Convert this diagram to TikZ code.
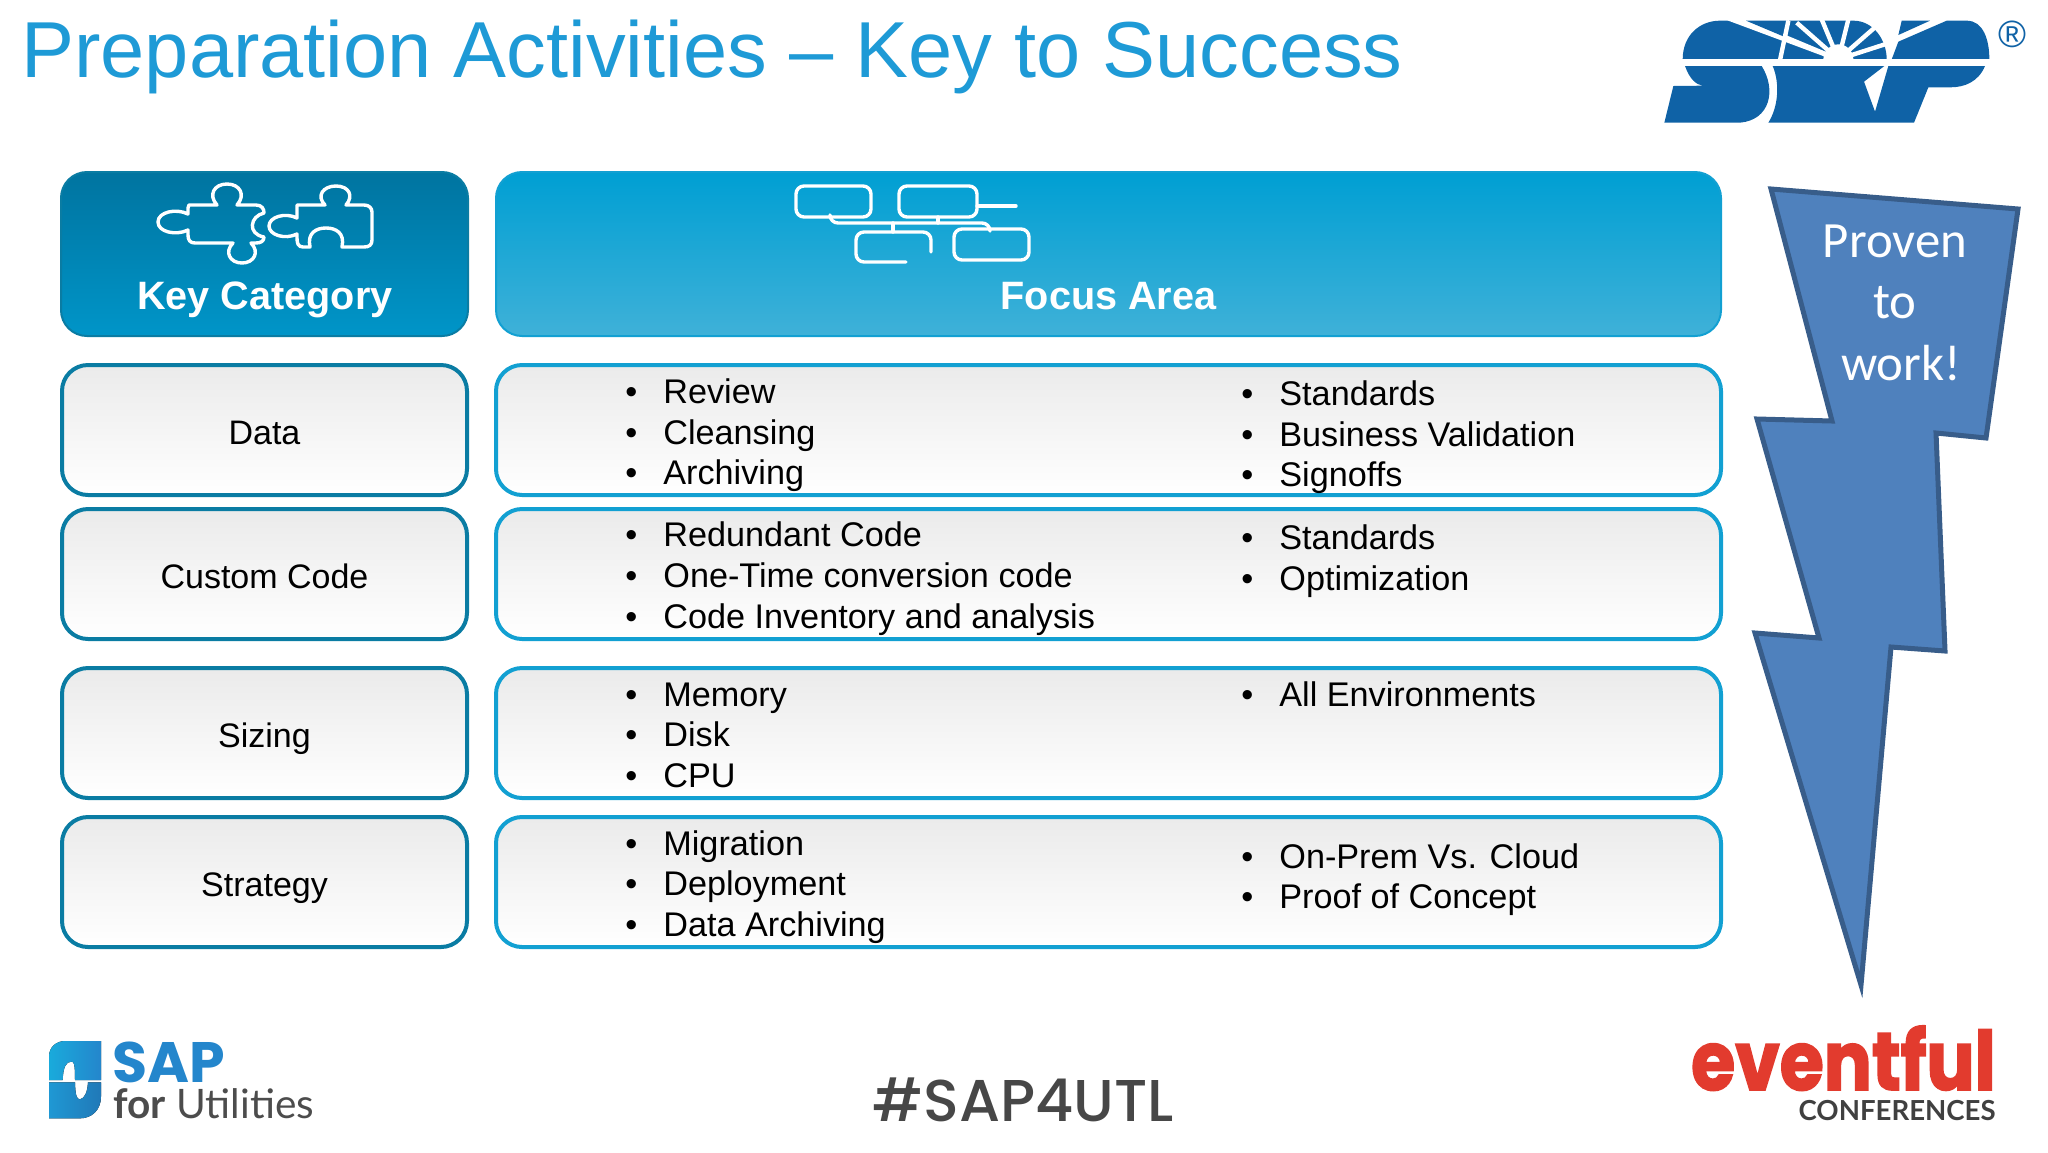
\documentclass[tikz,border=0pt]{standalone}
\usepackage{fontspec}
\setmainfont{Liberation Sans}
\newfontfamily\boltfont{Carlito}
\newfontfamily\logofont{Lato}
\newfontfamily\sapfont{Poppins}
\newfontfamily\tagfont{Poppins Medium}
\newfontfamily\eventfont[FakeStretch=0.87,FakeBold=2]{Poppins}
\definecolor{titleblue}{HTML}{1E9AD6}
\definecolor{keyedge}{HTML}{0A7CA3}
\definecolor{focusedge}{HTML}{12A0D2}
\definecolor{keytop}{HTML}{0074A0}
\definecolor{keybottom}{HTML}{0095C8}
\definecolor{focustop}{HTML}{009FD3}
\definecolor{focusbottom}{HTML}{3FB1D8}
\definecolor{srpblue}{HTML}{0F62A6}
\definecolor{boltfill}{HTML}{4F81BD}
\definecolor{boltedge}{HTML}{385D8A}
\definecolor{sapblue}{HTML}{2486CC}
\definecolor{eventred}{HTML}{E23B2E}
\tikzset{
    keyhead/.style={rounded corners=13pt, draw=keyedge, line width=1pt, top color=keytop, bottom color=keybottom, minimum width=203.5pt, minimum height=82pt},
    focushead/.style={rounded corners=13pt, draw=focusedge, line width=1pt, top color=focustop, bottom color=focusbottom, minimum width=612.5pt, minimum height=82pt},
    keybox/.style={rounded corners=13pt, draw=keyedge, line width=2pt, top color=black!8, bottom color=white, minimum width=202.5pt, minimum height=65pt, text height=17.5pt, text depth=3pt, font=\fontsize{17}{20}\selectfont},
    focusbox/.style={rounded corners=13pt, draw=focusedge, line width=2pt, top color=black!8, bottom color=white, minimum width=612.5pt, minimum height=65pt},
    headtext/.style={anchor=base, inner sep=0pt, text=white, font=\bfseries\fontsize{19.8}{23}\selectfont},
    itemtext/.style={anchor=base west, inner sep=0pt, yshift=-5.8pt, font=\fontsize{17.1}{20}\selectfont},
    icon/.style={draw=white, line width=1.7pt, line cap=round, line join=round},
    bolttext/.style={text=white, font=\boltfont\fontsize{25.4}{29}\selectfont},
}
\begin{document}
\begin{tikzpicture}[x=0.5pt,y=-0.5pt]
    \useasboundingbox (0,0) rectangle (2048,1152);

    % Title
    \node[anchor=base west, inner sep=0pt, text=titleblue, font=\fontsize{39.7}{46}\selectfont] (title) at (21,77) {Preparation Activities – Key to Success};

    % Header boxes
    \node[keyhead] (keyhead) at (264.5,254) {};
    \node[focushead] (focushead) at (1108.5,254) {};
    \node[headtext] (keylabel) at (265,309) {Key Category};
    \node[headtext] (focuslabel) at (1108.5,309) {Focus Area};

    % Puzzle pieces
    \draw[icon] (189,205) -- (217,205) .. controls (208,195) and (214,184) .. (227,184) .. controls (240,184) and (246,195) .. (237,205) -- (256,205) .. controls (262,205) and (264,209) .. (264,213) .. controls (250,216) and (247,234) .. (264,237) .. controls (264,241) and (261,243) .. (256,243) -- (251,243) .. controls (260,252) and (254,263) .. (242,263) .. controls (230,263) and (224,252) .. (233,243) -- (195,243) .. controls (190,243) and (188,240) .. (188,235) -- (188,230) .. controls (176,236) and (158,232) .. (158,222) .. controls (158,212) and (176,208) .. (188,214) -- (188,208) -- cycle;
    \draw[icon] (297,205) -- (325,205) .. controls (316,196) and (323,186) .. (336,186) .. controls (349,186) and (354,196) .. (346,205) -- (364,205) .. controls (369,205) and (372,208) .. (372,212) -- (372,240) .. controls (372,245) and (369,247) .. (364,247) -- (342,247) .. controls (345,233) and (336,228) .. (326,228) .. controls (316,228) and (307,233) .. (310,247) -- (303,247) .. controls (298,247) and (297,243) .. (297,238) -- (297,234) .. controls (285,240) and (269,235) .. (269,226) .. controls (269,217) and (285,212) .. (297,218) -- cycle;

    % Hierarchy boxes
    \draw[icon, rounded corners=4pt] (796,186) rectangle (871,217);
    \draw[icon, rounded corners=4pt] (899,186) rectangle (977,217);
    \draw[icon, rounded corners=4pt] (954,229) rectangle (1029,260);
    \draw[icon, rounded corners=4pt] (906,262) -- (856,262) -- (856,232) -- (931,232) -- (931,252);
    \draw[icon] (977,206) -- (1016,206);
    \draw[icon, rounded corners=4pt] (830,217) -- (830,223) -- (990,223) -- (990,229);
    \draw[icon] (893,223) -- (893,232);
    \draw[icon] (938,217) -- (938,223);

    % Key category boxes
    \node[keybox] (data) at (264.5,430) {Data};
    \node[keybox] (code) at (264.5,574) {Custom Code};
    \node[keybox] (sizing) at (264.5,733) {Sizing};
    \node[keybox] (strategy) at (264.5,882) {Strategy};

    % Focus area boxes
    \node[focusbox] (datafocus) at (1108.5,430) {};
    \node[focusbox] (codefocus) at (1108.5,574) {};
    \node[focusbox] (sizingfocus) at (1108.5,733) {};
    \node[focusbox] (strategyfocus) at (1108.5,882) {};

    % Left column of the lists
    \foreach \y/\txt in {392/Review, 433/Cleansing, 473/Archiving,
        535/Redundant Code, 576/One-Time conversion code, 617/Code Inventory and analysis,
        695/Memory, 735/Disk, 776/CPU,
        844/Migration, 884/Deployment, 925/Data Archiving} {
        \node[itemtext] at (625,\y) {•};
        \node[itemtext] at (663,\y) {\txt};
    }

    % Right column of the lists
    \foreach \y/\txt in {394/Standards, 435/Business Validation, 475/Signoffs,
        538/Standards, 579/Optimization,
        695/All Environments,
        857/On-Prem Vs. Cloud, 897/Proof of Concept} {
        \node[itemtext] at (1241,\y) {•};
        \node[itemtext] at (1279,\y) {\txt};
    }

    % Lightning bolt
    \draw[fill=boltfill, draw=boltedge, line width=2.5pt, line join=miter]
        (1771,189) -- (2018,209) -- (1986,438) -- (1936,433) -- (1945,651) -- (1891,647)
        -- (1861,985) -- (1755,633) -- (1819,638) -- (1757,419) -- (1832,421) -- cycle;
    \node[bolttext] (proven) at (1895,241) {Proven};
    \node[bolttext] (to) at (1895,303) {to};
    \node[bolttext] (work) at (1901,363) {work!};

    % SRP logo
    \begin{scope}[shift={(1640,0)},x=0.16667pt,y=-0.16667pt]
        \fill[srpblue] (128,178) .. controls (128,105) and (180,62) .. (240,62) -- (640,62) .. controls (700,62) and (740,120) .. (740,178) -- cycle;
        \fill[srpblue] (785,62) -- (870,62) -- (775,105) -- cycle;
        \fill[srpblue] (775,125) -- (920,62) -- (980,62) .. controls (1030,62) and (1048,120) .. (1048,178) -- (755,178) -- cycle;
        \foreach \a/\b in {265/55, 300/55, 470/68, 545/58, 625/58, 705/82, 750/128} {
            \draw[white, line width=2.2pt] (\a,\b) -- (595,178);
        }
        \fill[white] (285,40) -- (450,40) -- (440,120) -- cycle;
        \fill[srpblue] (318,62) -- (442,62) -- (432,110) -- cycle;
        \draw[white, line width=2.2pt] (445,62) -- (420,180);
        \fill[white] (595,178) circle (45);
        \fill[white] (100,178) rectangle (1060,198);
        \fill[srpblue] (135,198) .. controls (150,240) and (170,255) .. (190,257) -- (100,258) -- (73,368) -- (300,368) .. controls (390,360) and (410,270) .. (365,198) -- cycle;
        \fill[srpblue] (398,198) -- (733,198) -- (672,245) -- (705,335) -- (745,198) -- (1035,198) .. controls (1015,245) and (975,262) .. (930,262) -- (865,262) -- (822,368) -- (385,368) .. controls (415,320) and (420,250) .. (398,198) -- cycle;
    \end{scope}
    \node[text=srpblue, inner sep=0pt, font=\fontsize{19}{22}\selectfont] (reg) at (2012,34) {®};

    % SAP logo
    \begin{scope}[shift={(30,1020)},x=0.16667pt,y=-0.16667pt]
        \fill[left color=sapblue!70!cyan, right color=sapblue] (57,180) -- (57,110) .. controls (57,80) and (80,63) .. (105,63) -- (213,63) -- (213,180) -- (135,180) .. controls (135,130) and (132,125) .. (124,125) .. controls (108,125) and (100,140) .. (98,180) -- cycle;
        \fill[left color=sapblue!85!cyan, right color=sapblue!90!black] (57,187) -- (135,187) .. controls (136,225) and (140,238) .. (150,238) .. controls (165,235) and (172,215) .. (174,187) -- (213,187) -- (213,230) .. controls (213,270) and (185,295) .. (150,295) -- (57,295) -- cycle;
    \end{scope}
    \node[anchor=base west, inner sep=0pt, text=sapblue, font=\sapfont\bfseries\fontsize{28.5}{30}\selectfont] (sap) at (112,1082) {SAP};
    \node[anchor=base west, inner sep=0pt, text=black!70, font=\logofont\fontsize{20.3}{24}\selectfont] (forutil) at (113,1118) {\textbf{for} Utilities};

    % Hashtag
    \node[text=black!72, font=\tagfont\fontsize{29.5}{34}\selectfont] (hashtag) at (1023,1100) {\#SAP4UTL};

    % Eventful logo
    \node[anchor=base east, inner sep=0pt, text=eventred, font=\eventfont\bfseries\fontsize{41}{46}\selectfont] (eventful) at (1996,1090) {eventful};
    \node[anchor=base east, inner sep=0pt, text=black!75, font=\logofont\bfseries\fontsize{13.8}{14}\selectfont] (conf) at (1996,1120) {CONFERENCES};
\end{tikzpicture}
\end{document}
